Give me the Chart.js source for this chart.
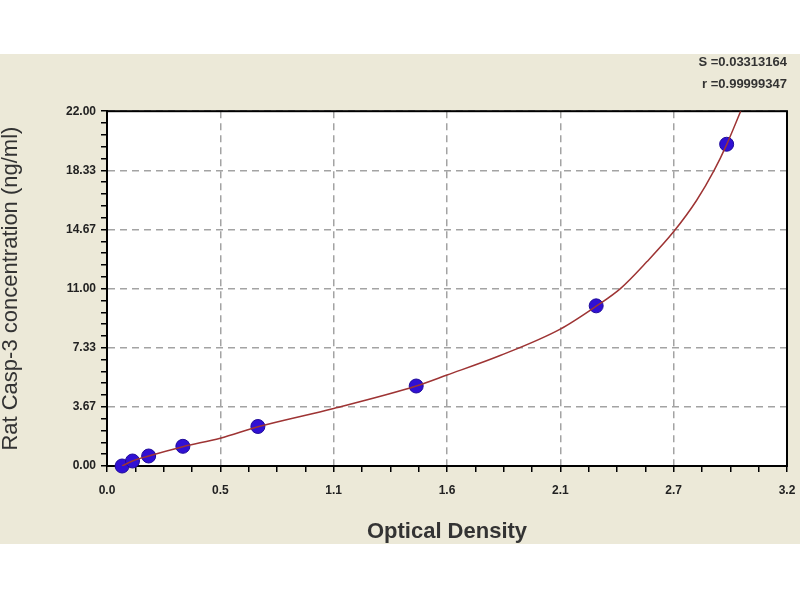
<!DOCTYPE html>
<html>
<head>
<meta charset="utf-8">
<script src="https://cdn.jsdelivr.net/npm/chart.js@4.4.0/dist/chart.umd.min.js"></script>
<style>
  html, body { margin: 0; padding: 0; background: #fff; }
  #wrap { width: 800px; height: 600px; }
</style>
</head>
<body>
<div id="wrap"><canvas id="stdCurve" width="800" height="600"></canvas></div>
<script>
// standard points (OD, concentration)
const odValues = [0.071, 0.120, 0.196, 0.357, 0.710, 1.455, 2.302, 2.916];
const concValues = [0.00, 0.31, 0.62, 1.22, 2.45, 4.96, 9.93, 19.95];

// fitted curve
const curveOD = [0.071, 0.120, 0.196, 0.357, 0.533, 0.710, 1.067, 1.455, 1.600, 1.850, 2.133, 2.302, 2.416, 2.540, 2.666, 2.775, 2.857, 2.916, 2.982];
const curveConc = [0.00, 0.31, 0.62, 1.20, 1.72, 2.43, 3.57, 4.96, 5.64, 6.85, 8.49, 9.91, 11.00, 12.66, 14.52, 16.48, 18.33, 19.93, 22.00];

const xTickLabels = ['0.0', '0.5', '1.1', '1.6', '2.1', '2.7', '3.2'];
const yTickLabels = ['0.00', '3.67', '7.33', '11.00', '14.67', '18.33', '22.00'];
const fitStats = ['S =0.03313164', 'r =0.99999347'];

const X_MAX = 3.2, Y_MAX = 22;
const X_SUB = 4, Y_SUB = 5;

const bgPlugin = {
  id: 'bg',
  beforeDraw(chart) {
    const ctx = chart.ctx, a = chart.chartArea;
    ctx.save();
    ctx.fillStyle = '#ffffff';
    ctx.fillRect(0, 0, chart.width, chart.height);
    ctx.fillStyle = '#ece9d8';
    ctx.fillRect(0, 54, chart.width, 490);
    ctx.fillStyle = '#ffffff';
    ctx.fillRect(a.left, a.top, a.right - a.left, a.bottom - a.top);
    ctx.restore();
  },
  beforeDatasetsDraw(chart) {
    const ctx = chart.ctx, a = chart.chartArea;
    ctx.save();
    ctx.strokeStyle = '#000';
    ctx.lineWidth = 2;
    ctx.strokeRect(a.left, a.top, a.right - a.left, a.bottom - a.top);
    ctx.restore();
  }
};

const points = odValues.map((v, i) => ({x: v, y: concValues[i]}));
const curve = curveOD.map((v, i) => ({x: v, y: curveConc[i]}));

new Chart(document.getElementById('stdCurve'), {
  type: 'scatter',
  data: {
    datasets: [{
      data: curve,
      showLine: true,
      borderColor: '#9e3434',
      borderWidth: 1.5,
      pointRadius: 0,
      cubicInterpolationMode: 'monotone'
    }, {
      data: points,
      pointRadius: 7,
      pointBackgroundColor: '#3010d4',
      pointBorderColor: '#200c9a',
      pointBorderWidth: 1,
      clip: false
    }]
  },
  options: {
    responsive: false,
    animation: false,
    layout: { padding: { left: 0, right: 13, top: 0, bottom: 56 } },
    plugins: {
      legend: { display: false },
      tooltip: { enabled: false },
      title: {
        display: true,
        text: fitStats,
        align: 'end',
        color: '#333',
        font: { family: 'Arial', size: 13, weight: 'bold', lineHeight: 1.7 },
        padding: { top: 51, bottom: 16 }
      }
    },
    scales: {
      x: {
        type: 'linear',
        min: 0,
        max: X_MAX,
        afterFit(scale) {
          scale.height = 78;
          // keep the plot box wide, the last label may hang over the edge
          scale.paddingLeft = 0;
          scale.paddingRight = 10;
        },
        afterBuildTicks(scale) {
          const t = [];
          for (let i = 0; i <= 6 * X_SUB; i++) t.push({value: i * X_MAX / (6 * X_SUB)});
          scale.ticks = t;
        },
        ticks: {
          autoSkip: false,
          maxRotation: 0,
          padding: 11,
          color: '#222',
          font: { family: 'Arial', size: 12, weight: 'bold' },
          callback: function(value, index) {
            return index % X_SUB === 0 ? xTickLabels[index / X_SUB] : '';
          }
        },
        grid: {
          lineWidth: 1.5,
          tickLength: 6,
          tickWidth: 1.5,
          tickColor: '#000',
          color: function(c) { return c.index % X_SUB === 0 ? '#a3a3a3' : 'rgba(0,0,0,0)'; }
        },
        border: { display: true, color: '#000', width: 2, dash: [7, 5] },
        title: {
          display: true,
          text: 'Optical Density',
          color: '#333',
          font: { family: 'Arial', size: 22, weight: 'bold', lineHeight: 1.1 },
          padding: { top: 0, bottom: 0 }
        }
      },
      y: {
        type: 'linear',
        min: 0,
        max: Y_MAX,
        afterFit(scale) { scale.width = 107; },
        afterBuildTicks(scale) {
          const t = [];
          for (let i = 0; i <= 6 * Y_SUB; i++) t.push({value: i * Y_MAX / (6 * Y_SUB)});
          scale.ticks = t;
        },
        ticks: {
          autoSkip: false,
          padding: 5,
          color: '#222',
          font: { family: 'Arial', size: 12, weight: 'bold' },
          callback: function(value, index) {
            return index % Y_SUB === 0 ? yTickLabels[index / Y_SUB] : '';
          }
        },
        grid: {
          lineWidth: 1.5,
          tickLength: 6,
          tickWidth: 1.5,
          tickColor: '#000',
          color: function(c) { return c.index % Y_SUB === 0 ? '#a3a3a3' : 'rgba(0,0,0,0)'; }
        },
        border: { display: true, color: '#000', width: 2, dash: [7, 5] },
        title: {
          display: true,
          text: 'Rat Casp-3 concentration (ng/ml)',
          color: '#333',
          font: { family: 'Arial', size: 22, lineHeight: 1.0 },
          padding: { top: 0, bottom: 0 }
        }
      }
    }
  },
  plugins: [bgPlugin]
});
</script>
</body>
</html>
